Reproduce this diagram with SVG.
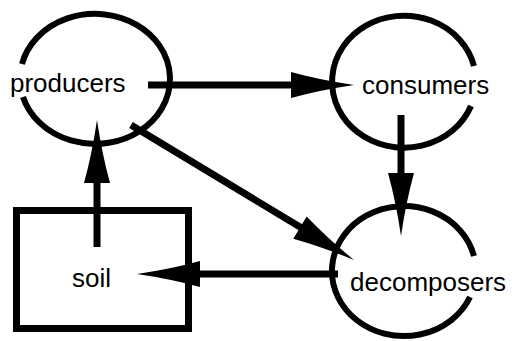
<svg xmlns="http://www.w3.org/2000/svg" xmlns:xlink="http://www.w3.org/1999/xlink" width="512" height="341" viewBox="0 0 512 341">
  <style>
    .ring { fill: none; stroke: #000; stroke-width: 6; }
    .box { fill: none; stroke: #000; stroke-width: 7; }
    .shaft { fill: none; stroke: #000; stroke-width: 7; }
    .head { fill: #000; }
    .label { font-family: "Liberation Sans", Arial, Helvetica, sans-serif; font-size: 26px; fill: #000; }
  </style>
  <defs>
    <!-- slender arrowhead pointing along +x, tip at the origin -->
    <path id="head" class="head" d="M0,0 Q-34,-5 -63,-13 L-63,13 Q-34,5 0,0 Z"/>
  </defs>
  <rect width="512" height="341" fill="#fff"/>

  <g id="connectors">
    <!-- producers to consumers -->
    <line class="shaft" x1="148" y1="85" x2="300" y2="85"/>
    <use xlink:href="#head" href="#head" transform="translate(354,85)"/>
    <!-- consumers to decomposers -->
    <line class="shaft" x1="401" y1="115" x2="401" y2="180"/>
    <use xlink:href="#head" href="#head" transform="translate(401,236) rotate(90)"/>
    <!-- producers to decomposers -->
    <line class="shaft" x1="131" y1="125" x2="305" y2="230"/>
    <use xlink:href="#head" href="#head" transform="translate(354,260) rotate(31)"/>
    <!-- decomposers to soil -->
    <line class="shaft" x1="338" y1="274" x2="190" y2="274"/>
    <use xlink:href="#head" href="#head" transform="translate(137,274) rotate(180)"/>
    <!-- soil to producers -->
    <line class="shaft" x1="97" y1="247" x2="97" y2="175"/>
    <use xlink:href="#head" href="#head" transform="translate(97,120) rotate(-90)"/>
  </g>

  <g id="producers">
    <path class="ring" d="M22,64 A75,65 0 1 1 23,97"/>
    <text class="label" x="10" y="92">producers</text>
  </g>

  <g id="consumers">
    <path class="ring" d="M474,66 A72,66 0 1 0 471,106"/>
    <text class="label" x="362" y="94">consumers</text>
  </g>

  <g id="decomposers">
    <path class="ring" d="M474,256 A72,65 0 1 0 470,297"/>
    <text class="label" x="350" y="291">decomposers</text>
  </g>

  <g id="soil">
    <rect class="box" x="16.5" y="210.5" width="172" height="118"/>
    <text class="label" x="72" y="287">soil</text>
  </g>
</svg>
